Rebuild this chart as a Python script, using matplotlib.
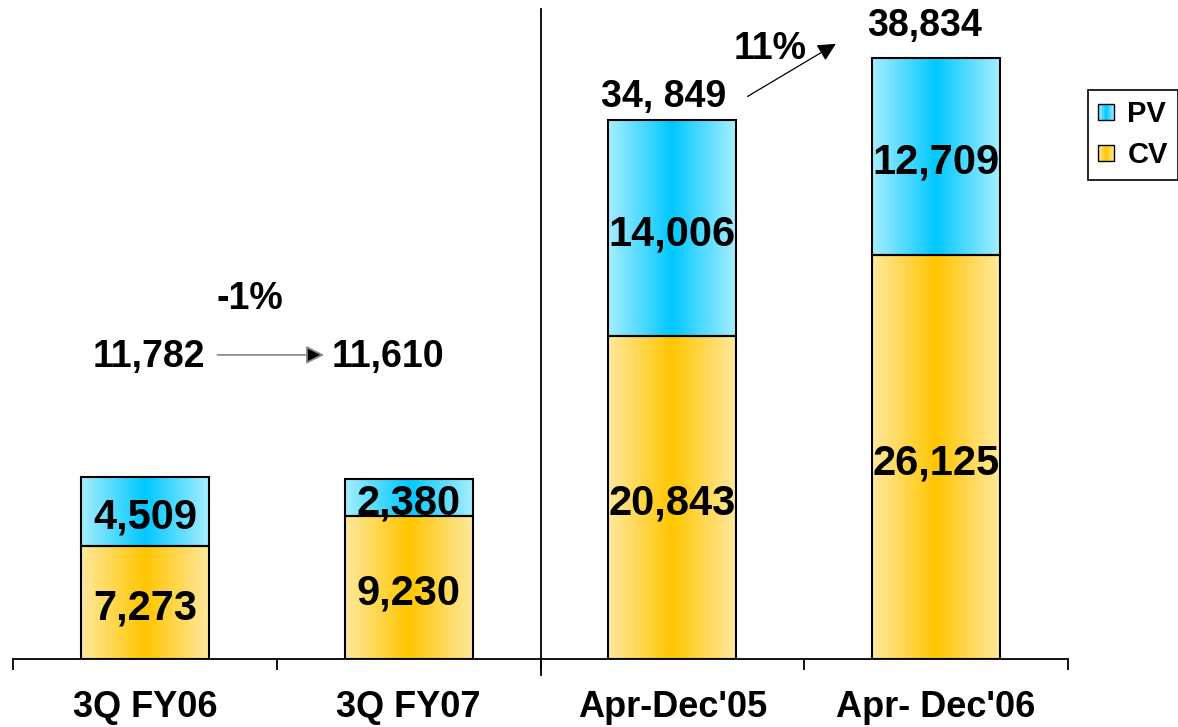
import numpy as np
import matplotlib
matplotlib.use("Agg")
import matplotlib.pyplot as plt
from matplotlib.colors import LinearSegmentedColormap
from matplotlib.legend_handler import HandlerBase
from matplotlib.patches import Rectangle

# ------------------------- Data ------------------------- #
categories = ["3Q FY06", "3Q FY07", "Apr-Dec'05", "Apr- Dec'06"]
cv_values = [7273, 9230, 20843, 26125]
pv_values = [4509, 2380, 14006, 12709]
cv_labels = ["7,273", "9,230", "20,843", "26,125"]
pv_labels = ["4,509", "2,380", "14,006", "12,709"]
total_labels = ["11,782", "11,610", "34, 849", "38,834"]
growth_labels = ["-1%", "11%"]

# ------------------------- Style ------------------------- #
plt.rcParams['font.family'] = ['Liberation Sans', 'DejaVu Sans']
plt.rcParams['font.weight'] = 'bold'

cv_cmap = LinearSegmentedColormap.from_list("cv", ["#FFE89E", "#FFC600", "#FFE89E"])
pv_cmap = LinearSegmentedColormap.from_list("pv", ["#A6EEFF", "#00C8FF", "#A6EEFF"])


class GradientHandler(HandlerBase):
    """Legend key drawn as a small box with a horizontal gradient."""
    def __init__(self, cmap, n=24):
        super().__init__()
        self.cmap = cmap
        self.n = n

    def create_artists(self, legend, orig_handle, xdescent, ydescent,
                       width, height, fontsize, trans):
        arts = []
        for i in range(self.n):
            arts.append(Rectangle((-xdescent + width * i / self.n, -ydescent),
                                  width / self.n + 0.2, height,
                                  fc=self.cmap((i + 0.5) / self.n), ec='none',
                                  transform=trans))
        arts.append(Rectangle((-xdescent, -ydescent), width, height,
                              fc='none', ec='black', lw=1.0, transform=trans))
        return arts


def gradient_bars(ax, x, heights, bottoms, width, cmap):
    bars = ax.bar(x, heights, width, bottom=bottoms, facecolor='none',
                  edgecolor='black', linewidth=1.5, zorder=3)
    grad = cmap(np.linspace(0, 1, 256))[np.newaxis, :, :3]
    for b in bars:
        x0, y0 = b.get_x(), b.get_y()
        ax.imshow(grad, extent=[x0, x0 + b.get_width(), y0, y0 + b.get_height()],
                  aspect='auto', interpolation='bilinear', zorder=2)
    return bars


# ------------------------- Figure ------------------------- #
fig = plt.figure(figsize=(11.78, 7.27), dpi=100)
ax = fig.add_axes([13 / 1178, 68 / 727, 1055 / 1178, 650 / 727])

x = np.arange(len(categories))
w = 0.485
cv = np.array(cv_values)
pv = np.array(pv_values)

cv_bars = gradient_bars(ax, x, cv, 0, w, cv_cmap)
pv_bars = gradient_bars(ax, x, pv, cv, w, pv_cmap)

ax.set_xlim(-0.5, 3.5)
ax.set_ylim(0, 42000)

# segment values (set slightly below the segment middle)
off = 400
for i in range(len(x)):
    ax.text(x[i], cv[i] / 2 - off, cv_labels[i], ha='center', va='center',
            fontsize=30, fontweight='bold', zorder=5)
    ax.text(x[i], cv[i] + pv[i] / 2 - off, pv_labels[i], ha='center', va='center',
            fontsize=30, fontweight='bold', zorder=5)

totals = cv + pv
arrow_style = '-|>,head_length=1.1,head_width=0.55'

# quarter totals with the growth arrow between them
ax.text(0.015, 19500, total_labels[0], ha='center', va='center', fontsize=27)
ax.text(0.92, 19500, total_labels[1], ha='center', va='center', fontsize=27)
ax.annotate("", xy=(0.68, 19650), xytext=(0.275, 19650),
            arrowprops=dict(arrowstyle=arrow_style, fc='black', ec='#8c8c8c',
                            lw=1.3, shrinkA=0, shrinkB=0))
ax.text(0.40, 23250, growth_labels[0], ha='center', va='center', fontsize=27)

# nine-month totals
ax.text(x[2] - 0.035, totals[2] + 300, total_labels[2], ha='center', va='bottom', fontsize=27)
ax.text(x[3] - 0.045, totals[3] + 900, total_labels[3], ha='center', va='bottom', fontsize=27)
ax.annotate("", xy=(2.62, 39750), xytext=(2.285, 36350),
            arrowprops=dict(arrowstyle=arrow_style, fc='black', ec='black',
                            lw=0.9, shrinkA=0, shrinkB=0))
ax.text(2.37, 39400, growth_labels[1], ha='center', va='center', fontsize=27)

# divider between quarter and nine-month figures
ax.axvline(1.5, ymin=-0.025, ymax=1.0, color='black', lw=1.3, clip_on=False)

# axes styling
for s in ['top', 'right', 'left']:
    ax.spines[s].set_visible(False)
ax.spines['bottom'].set_linewidth(1.3)
ax.set_yticks([])
ax.set_xticks(np.arange(-0.5, 4.0, 1.0))
ax.set_xticklabels([])
ax.tick_params(axis='x', which='major', length=8, width=1.3, direction='out')
ax.set_xticks(x, minor=True)
ax.set_xticklabels(categories, minor=True, fontsize=26, fontweight='bold')
ax.tick_params(axis='x', which='minor', length=0, pad=22.5)

# legend
pv_handle = Rectangle((0, 0), 1, 1)
cv_handle = Rectangle((0, 0), 1, 1)
leg = fig.legend([pv_handle, cv_handle], ["PV", "CV"],
                 handler_map={pv_handle: GradientHandler(pv_cmap),
                              cv_handle: GradientHandler(cv_cmap)},
                 loc='upper left', bbox_to_anchor=(1088 / 1178, 1 - 90 / 727),
                 prop={'size': 21, 'weight': 'bold'}, fancybox=False,
                 edgecolor='black', framealpha=1, handlelength=0.55,
                 handleheight=0.5, handletextpad=0.45, borderpad=0.35,
                 labelspacing=0.45, borderaxespad=0)
leg.get_frame().set_linewidth(1.2)

fig.savefig("out.png", dpi=100)
